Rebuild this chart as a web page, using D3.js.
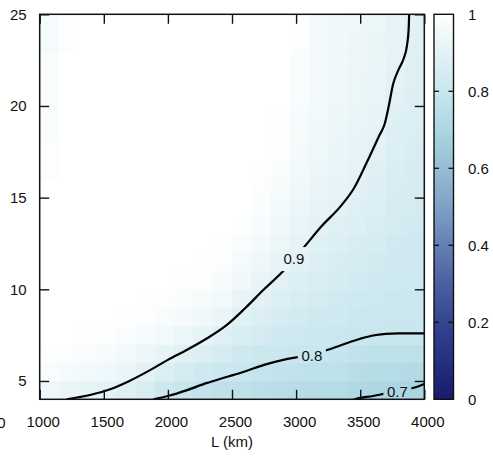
<!DOCTYPE html>
<html>
<head>
<meta charset="utf-8">
<script src="https://cdn.jsdelivr.net/npm/d3@7"></script>
<style>
body { margin: 0; background: #fff; }
text { font-family: "Liberation Sans", Arial, Helvetica, sans-serif; font-size: 15px; fill: #111; }
</style>
</head>
<body>
<svg id="chart" width="493" height="456"></svg>
<script>
// cell centres (L in km, y in the vertical unit)
var lCenters = [1075, 1225, 1375, 1525, 1675, 1825, 1975, 2125, 2275, 2425,
                2575, 2725, 2875, 3025, 3175, 3325, 3475, 3625, 3775, 3925];
var yCenters = [4.5, 5.5, 6.5, 7.5, 8.5, 9.5, 10.5, 11.5, 12.5, 13.5, 14.5,
                15.5, 16.5, 17.5, 18.5, 19.5, 20.5, 21.5, 22.5, 23.5, 24.5];

// one column per L, values from bottom (4.5) to top (24.5)
var fraction = [
  [0.94, 0.975, 0.99, 0.997, 0.997, 0.997, 0.997, 0.997, 0.997, 0.997, 0.997, 0.997, 0.985, 0.985, 0.978, 0.978, 0.978, 0.978, 0.978, 0.965, 0.965],
  [0.925, 0.965, 0.985, 1, 1, 1, 1, 1, 1, 1, 1, 1, 1, 1, 1, 1, 1, 1, 1, 0.99, 0.99],
  [0.91, 0.955, 0.98, 0.995, 1, 1, 1, 1, 1, 1, 1, 1, 1, 1, 1, 1, 1, 1, 1, 1, 1],
  [0.90, 0.94, 0.97, 0.99, 1, 1, 1, 1, 1, 1, 1, 1, 1, 1, 1, 1, 1, 1, 1, 1, 1],
  [0.88, 0.92, 0.955, 0.98, 0.995, 1, 1, 1, 1, 1, 1, 1, 1, 1, 1, 1, 1, 1, 1, 1, 1],
  [0.855, 0.895, 0.935, 0.965, 0.985, 0.995, 1, 1, 1, 1, 1, 1, 1, 1, 1, 1, 1, 1, 1, 1, 1],
  [0.815, 0.868, 0.915, 0.95, 0.975, 0.99, 1, 1, 1, 1, 1, 1, 1, 1, 1, 1, 1, 1, 1, 1, 1],
  [0.795, 0.843, 0.89, 0.93, 0.96, 0.98, 0.99, 1, 1, 1, 1, 1, 1, 1, 1, 1, 1, 1, 1, 1, 1],
  [0.78, 0.822, 0.865, 0.91, 0.945, 0.97, 0.985, 0.995, 1, 1, 1, 1, 1, 1, 1, 1, 1, 1, 1, 1, 1],
  [0.77, 0.81, 0.846, 0.883, 0.92, 0.95, 0.97, 0.985, 0.995, 1, 1, 1, 1, 1, 1, 1, 1, 1, 1, 1, 1],
  [0.76, 0.798, 0.828, 0.858, 0.888, 0.918, 0.945, 0.965, 0.98, 0.99, 0.997, 1, 1, 1, 1, 1, 1, 1, 1, 1, 1],
  [0.752, 0.79, 0.815, 0.84, 0.866, 0.892, 0.918, 0.94, 0.958, 0.972, 0.983, 0.99, 0.995, 1, 1, 1, 1, 1, 1, 1, 1],
  [0.745, 0.78, 0.807, 0.828, 0.85, 0.872, 0.893, 0.913, 0.93, 0.945, 0.958, 0.968, 0.977, 0.984, 0.99, 0.994, 0.997, 0.998, 1, 1, 1],
  [0.74, 0.775, 0.803, 0.82, 0.838, 0.856, 0.873, 0.891, 0.908, 0.922, 0.935, 0.945, 0.954, 0.962, 0.968, 0.973, 0.977, 0.98, 0.982, 0.984, 0.985],
  [0.735, 0.768, 0.798, 0.813, 0.828, 0.843, 0.858, 0.873, 0.888, 0.903, 0.915, 0.925, 0.933, 0.94, 0.945, 0.95, 0.953, 0.956, 0.958, 0.96, 0.96],
  [0.73, 0.762, 0.79, 0.808, 0.821, 0.834, 0.847, 0.86, 0.874, 0.887, 0.9, 0.91, 0.918, 0.925, 0.93, 0.935, 0.939, 0.942, 0.944, 0.946, 0.947],
  [0.715, 0.745, 0.775, 0.803, 0.814, 0.826, 0.837, 0.849, 0.86, 0.871, 0.883, 0.894, 0.905, 0.913, 0.919, 0.924, 0.928, 0.932, 0.935, 0.937, 0.938],
  [0.708, 0.735, 0.766, 0.8, 0.81, 0.819, 0.829, 0.838, 0.848, 0.857, 0.867, 0.876, 0.886, 0.895, 0.905, 0.912, 0.917, 0.921, 0.924, 0.926, 0.927],
  [0.702, 0.73, 0.762, 0.797, 0.806, 0.814, 0.821, 0.828, 0.835, 0.842, 0.85, 0.857, 0.864, 0.871, 0.878, 0.886, 0.893, 0.9, 0.906, 0.91, 0.913],
  [0.695, 0.725, 0.76, 0.797, 0.805, 0.811, 0.817, 0.823, 0.829, 0.835, 0.841, 0.847, 0.853, 0.859, 0.865, 0.871, 0.876, 0.881, 0.886, 0.89, 0.893]
];

// contour lines, [L, y]
var contour09 = [[1210, 4.0], [1400, 4.25], [1550, 4.55], [1700, 5.0], [1850, 5.55], [2000, 6.15],
                 [2150, 6.7], [2300, 7.3], [2450, 8.0], [2600, 8.95], [2750, 10.0], [2900, 11.0],
                 [3050, 12.2], [3200, 13.45], [3350, 14.55], [3450, 15.5], [3550, 16.9], [3650, 18.4],
                 [3690, 19.0], [3720, 19.9], [3757, 21.2], [3800, 22.0], [3840, 22.6], [3865, 23.3],
                 [3878, 24.2], [3882, 25.0]];
var contour08 = [[1888, 4.0], [2000, 4.18], [2150, 4.5], [2300, 4.88], [2450, 5.2], [2600, 5.52],
                 [2750, 5.88], [2900, 6.15], [3050, 6.35], [3200, 6.6], [3350, 6.95], [3500, 7.3],
                 [3600, 7.48], [3700, 7.57], [3800, 7.6], [4000, 7.6]];
var contour07 = [[3440, 3.95], [3459, 4.0], [3600, 4.18], [3700, 4.32], [3800, 4.45], [3887, 4.58],
                 [3950, 4.7], [4000, 4.83]];
var contourLabels = [
  {text: "0.9", L: 2983, y: 11.65},
  {text: "0.8", L: 3123, y: 6.39},
  {text: "0.7", L: 3790, y: 4.4}
];

var xTicks = [1000, 1500, 2000, 2500, 3000, 3500, 4000];
var yTicks = [5, 10, 15, 20, 25];
var cbTicks = [0, 0.2, 0.4, 0.6, 0.8, 1];

var cmapStops = [0, 0.1, 0.2, 0.3, 0.4, 0.5, 0.6, 0.7, 0.8, 0.9, 1];
var cmapColors = ["#1a1a6e", "#25307f", "#344590", "#4b5fa2", "#6580b4", "#7fa1c5",
                  "#96bed4", "#acd6e2", "#c8e6ee", "#e3f2f6", "#ffffff"];

var svg = d3.select("#chart");
var box = {left: 39.7, right: 424.3, top: 14.3, bottom: 399.3};

var x = d3.scaleLinear().domain([1000, 4000]).range([box.left, box.right]);
var y = d3.scaleLinear().domain([4, 25]).range([box.bottom, box.top]);
var color = d3.scaleLinear().domain(cmapStops).range(cmapColors).clamp(true);

var defs = svg.append("defs");
defs.append("clipPath").attr("id", "plotclip")
  .append("rect").attr("x", box.left).attr("y", box.top)
  .attr("width", box.right - box.left).attr("height", box.bottom - box.top);

// heat map cells
var cells = [];
lCenters.forEach(function(L, i) {
  yCenters.forEach(function(v, j) {
    cells.push({L: L, v: v, z: fraction[i][j]});
  });
});
var halfW = 75, halfH = 0.5;
svg.append("g").attr("clip-path", "url(#plotclip)")
  .selectAll("rect").data(cells).join("rect")
  .attr("x", function(d) { return x(d.L - halfW); })
  .attr("y", function(d) { return y(d.v + halfH); })
  .attr("width", function(d) { return x(d.L + halfW) - x(d.L - halfW) + 0.4; })
  .attr("height", function(d) { return y(d.v - halfH) - y(d.v + halfH) + 0.4; })
  .attr("fill", function(d) { return color(d.z); });

// mask the lines under the labels
var mask = defs.append("mask").attr("id", "labelmask")
  .attr("maskUnits", "userSpaceOnUse").attr("x", 0).attr("y", 0)
  .attr("width", 493).attr("height", 456);
mask.append("rect").attr("x", 0).attr("y", 0).attr("width", 493).attr("height", 456).attr("fill", "#fff");
mask.selectAll("rect.hole").data(contourLabels).join("rect").attr("class", "hole")
  .attr("x", function(d) { return x(d.L) - 14; })
  .attr("y", function(d) { return y(d.y) - 12; })
  .attr("width", 28).attr("height", 24).attr("fill", "#000");

var line = d3.line()
  .x(function(d) { return x(d[0]); })
  .y(function(d) { return y(d[1]); })
  .curve(d3.curveMonotoneX);

svg.append("g").attr("clip-path", "url(#plotclip)")
  .append("g").attr("mask", "url(#labelmask)")
  .selectAll("path").data([contour09, contour08, contour07]).join("path")
  .attr("d", line)
  .attr("fill", "none").attr("stroke", "#000").attr("stroke-width", 2.2)
  .attr("stroke-linejoin", "round");

svg.append("g").selectAll("text").data(contourLabels).join("text")
  .attr("x", function(d) { return x(d.L); })
  .attr("y", function(d) { return y(d.y); })
  .attr("dy", "0.36em")
  .attr("text-anchor", "middle")
  .text(function(d) { return d.text; });

// axes (inward ticks)
var tickLen = 9.5;
var fmt = d3.format("d");
var gx = svg.append("g").attr("transform", "translate(0," + box.bottom + ")")
  .call(d3.axisBottom(x).tickValues(xTicks).tickFormat(fmt).tickSizeInner(-tickLen).tickSizeOuter(0).tickPadding(17));
gx.selectAll("text").attr("dx", 3);
var gxTop = svg.append("g").attr("transform", "translate(0," + box.top + ")")
  .call(d3.axisTop(x).tickValues(xTicks).tickFormat("").tickSizeInner(-tickLen).tickSizeOuter(0));
var gy = svg.append("g").attr("transform", "translate(" + box.left + ",0)")
  .call(d3.axisLeft(y).tickValues(yTicks).tickFormat(fmt).tickSizeInner(-tickLen).tickSizeOuter(0).tickPadding(13));
var gyRight = svg.append("g").attr("transform", "translate(" + box.right + ",0)")
  .call(d3.axisRight(y).tickValues(yTicks).tickFormat("").tickSizeInner(-tickLen).tickSizeOuter(0));

[gx, gxTop, gy, gyRight].forEach(function(g) {
  g.select(".domain").remove();
  g.selectAll("line").attr("stroke", "#111").attr("stroke-width", 1.4);
  g.selectAll("text").style("font-size", "15px").style("fill", "#111")
    .style("font-family", '"Liberation Sans", Arial, sans-serif');
});

svg.append("rect").attr("x", box.left).attr("y", box.top)
  .attr("width", box.right - box.left).attr("height", box.bottom - box.top)
  .attr("fill", "none").attr("stroke", "#111").attr("stroke-width", 1.5);

svg.append("text").attr("x", (box.left + box.right) / 2).attr("y", 447)
  .attr("text-anchor", "middle").text("L (km)");
svg.append("text").attr("x", 5.5).attr("y", 428)
  .attr("text-anchor", "end").text("0");

// colour bar
var cbLeft = 434, cbRight = 453.5;
var cbY = d3.scaleLinear().domain([0, 1]).range([box.bottom, box.top]);
var grad = defs.append("linearGradient").attr("id", "cbgrad")
  .attr("x1", 0).attr("y1", 1).attr("x2", 0).attr("y2", 0);
grad.selectAll("stop").data(cmapStops).join("stop")
  .attr("offset", function(d) { return d; })
  .attr("stop-color", function(d) { return color(d); });
svg.append("rect").attr("x", cbLeft).attr("y", cbY(1))
  .attr("width", cbRight - cbLeft).attr("height", cbY(0) - cbY(1))
  .attr("fill", "url(#cbgrad)").attr("stroke", "#111").attr("stroke-width", 1.4);

var cbInner = cbTicks.filter(function(d) { return d > 0 && d < 1; });
svg.append("g").selectAll("line").data(cbInner).join("line")
  .attr("x1", cbLeft).attr("x2", cbLeft + 5)
  .attr("y1", cbY).attr("y2", cbY)
  .attr("stroke", "#111").attr("stroke-width", 1.3);
svg.append("g").selectAll("line").data(cbInner).join("line")
  .attr("x1", cbRight - 5).attr("x2", cbRight)
  .attr("y1", cbY).attr("y2", cbY)
  .attr("stroke", "#111").attr("stroke-width", 1.3);
svg.append("g").selectAll("text").data(cbTicks).join("text")
  .attr("x", 468).attr("y", cbY).attr("dy", "0.35em")
  .text(function(d) { return d === 0 || d === 1 ? String(d) : d.toFixed(1); });
</script>
</body>
</html>
